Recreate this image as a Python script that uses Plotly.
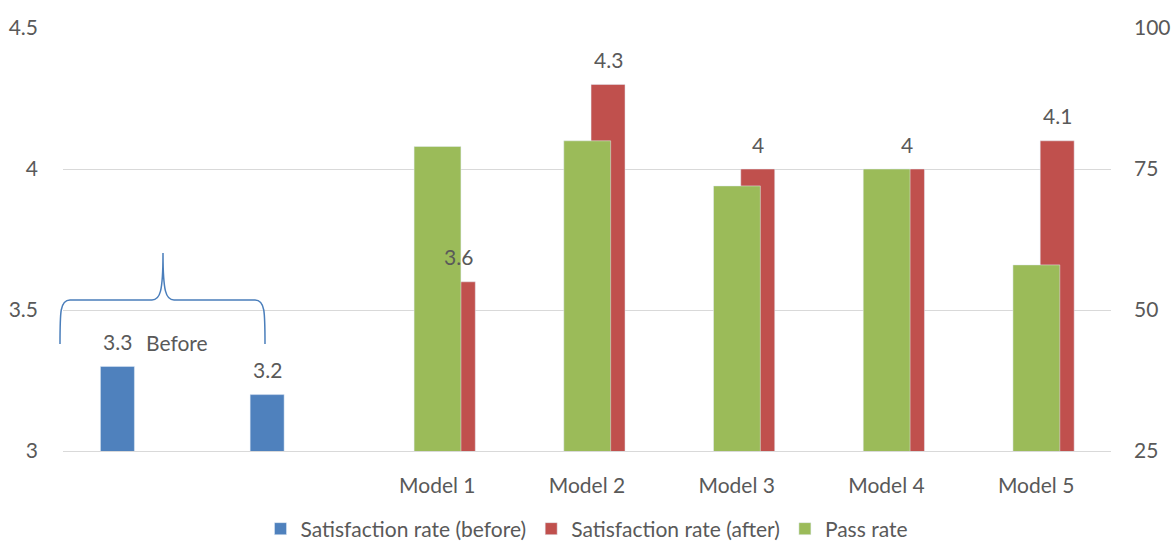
import plotly.graph_objects as go

# ---- data ----
positions = [0, 1, 2, 3, 4, 5, 6]
tick_labels = ["", "", "Model 1", "Model 2", "Model 3", "Model 4", "Model 5"]
sat_before = [3.3, 3.2, None, None, None, None, None]
sat_after = [None, None, 3.6, 4.3, 4.0, 4.0, 4.1]
pass_rate = [None, None, 79, 80, 72, 75, 58]

FONT = "Lato"
FS = 21
TXT = "#595959"
BLUE = "#4F81BD"
RED = "#C0504D"
GREEN = "#9BBB59"

W, H = 1175, 544
L, R, T, B = 63, 64, 28, 93
pw, ph = W - L - R, H - T - B

def px2paper(x, y):
    return (x - L) / pw, (H - B - y) / ph

fig = go.Figure()
fig.add_trace(go.Bar(x=positions, y=sat_before, name="Satisfaction rate (before)",
                     marker_color=BLUE, width=0.227, offset=-0.25, yaxis="y"))
fig.add_trace(go.Bar(x=positions, y=sat_after, name="Satisfaction rate (after)",
                     marker_color=RED, width=0.227, offset=0.027, yaxis="y"))
fig.add_trace(go.Bar(x=positions, y=pass_rate, name="Pass rate",
                     marker_color=GREEN, width=0.313, offset=-0.155, yaxis="y2"))

# data labels (drawn from data)
ann = []
for xi, v in zip(positions, sat_before):
    if v is not None:
        ann.append(dict(x=xi - 0.25 + 0.1135, y=v, xref="x", yref="y", text=f"{v:g}",
                        showarrow=False, yshift=25, font=dict(family=FONT, size=FS, color=TXT)))
for xi, v in zip(positions, sat_after):
    if v is not None:
        ann.append(dict(x=xi + 0.027 + 0.1135, y=v, xref="x", yref="y", text=f"{v:g}",
                        showarrow=False, yshift=25, font=dict(family=FONT, size=FS, color=TXT)))

bx, by = px2paper(177, 342)
ann.append(dict(x=bx, y=by, xref="paper", yref="paper", text="Before", showarrow=False,
                xanchor="center", yanchor="middle",
                font=dict(family=FONT, size=FS, color=TXT)))

# curly brace decoration
pts = [("M", [(60, 344)]), ("C", [(60, 312), (60, 300), (70, 300)]), ("L", [(152, 300)]),
       ("C", [(160, 300), (163, 292), (163, 253)]), ("C", [(163, 292), (166, 300), (174, 300)]),
       ("L", [(255, 300)]), ("C", [(265, 300), (265, 312), (265, 344)])]
path = ""
for cmd, ps in pts:
    path += cmd + " " + " ".join("%.5f,%.5f" % px2paper(x, y) for x, y in ps) + " "

_, ly = px2paper(0, 529)

fig.update_layout(
    width=W, height=H,
    margin=dict(l=L, r=R, t=T, b=B, autoexpand=False),
    plot_bgcolor="white", paper_bgcolor="white",
    barmode="overlay",
    font=dict(family=FONT, size=FS, color=TXT),
    xaxis=dict(range=[-0.5, 6.5], tickvals=positions, ticktext=tick_labels,
               showgrid=False, zeroline=False, showline=True, linecolor="#D9D9D9",
               linewidth=1, ticks="", ticklabelstandoff=16),
    yaxis=dict(range=[3, 4.5], tickvals=[3, 3.5, 4, 4.5], ticktext=["3", "3.5", "4", "4.5"],
               showgrid=True, gridcolor="#D9D9D9", zeroline=False, ticks="",
               ticklabelstandoff=24),
    yaxis2=dict(range=[25, 100], tickvals=[25, 50, 75, 100], overlaying="y", side="right",
                showgrid=False, zeroline=False, ticks="", ticklabelstandoff=22),
    legend=dict(orientation="h", x=0.5, xanchor="center", y=ly, yanchor="middle",
                font=dict(family=FONT, size=21, color=TXT), traceorder="normal",
                bgcolor="rgba(0,0,0,0)", itemwidth=30),
    annotations=ann,
    shapes=[dict(type="path", path=path, xref="paper", yref="paper",
                 line=dict(color="#4A7EBB", width=1.5))],
)

fig.write_html("out.html")
